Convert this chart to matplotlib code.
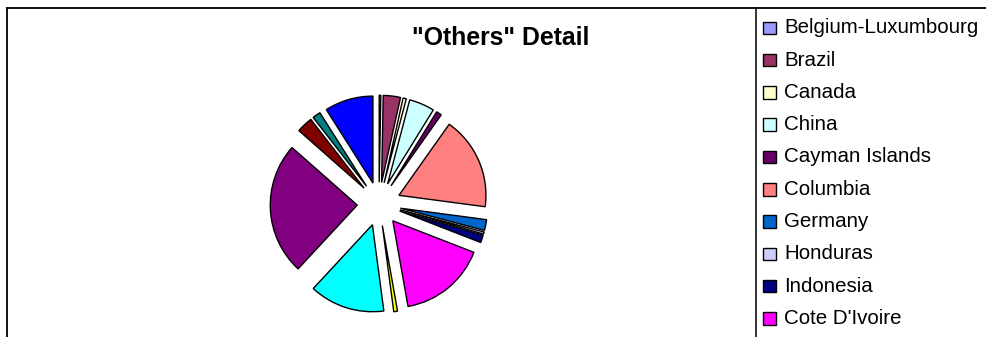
import matplotlib
matplotlib.use("Agg")
import matplotlib.pyplot as plt
from matplotlib.lines import Line2D
from matplotlib.patches import Rectangle

plt.rcParams['font.family'] = ['Liberation Sans', 'DejaVu Sans']

# share of the "others" group, clockwise from 12 o'clock
countries = ["Belgium-Luxumbourg", "Brazil", "Canada", "China", "Cayman Islands",
             "Columbia", "Germany", "Honduras", "Indonesia", "Cote D'Ivoire",
             "Malaysia", "Mexico", "Netherlands", "Panama", "Singapore",
             "United Kingdom"]
shares = [0.3, 3.2, 0.6, 4.7, 1.0, 17.3, 2.0, 0.4, 1.4, 16.3,
          0.7, 14.0, 24.6, 3.0, 1.5, 9.0]
colors = ["#9999FF", "#993366", "#FFFFCC", "#CCFFFF", "#660066", "#FF8080",
          "#0066CC", "#CCCCFF", "#000080", "#FF00FF", "#FFFF00", "#00FFFF",
          "#800080", "#800000", "#008080", "#0000FF"]

W, H = 987, 337
fig = plt.figure(figsize=(W / 100, H / 100), dpi=100)

# pie axes: centre (379, 204) px, radius 87 px
cx, cy, r = 379, 204, 87
half = 150
ax = fig.add_axes([(cx - half) / W, (H - cy - half) / H, 2 * half / W, 2 * half / H])
ax.pie(shares, colors=colors, startangle=90, counterclock=False,
       explode=[0.25] * len(shares),
       wedgeprops=dict(edgecolor="black", linewidth=1.0))
ax.set_xlim(-half / r, half / r)
ax.set_ylim(-half / r, half / r)
ax.set_aspect("equal")
ax.axis("off")

fig.text(501 / W, 1 - 38 / H, '"Others" Detail', ha="center", va="center",
         fontsize=17.8, fontweight="bold")

# chart frame (top and left) and legend divider
fig.add_artist(Line2D([7.5 / W, 7.5 / W], [0, 1 - 8 / H], color="black", lw=1.3))
fig.add_artist(Line2D([7.5 / W, 1], [1 - 8 / H, 1 - 8 / H], color="black", lw=1.3))
fig.add_artist(Line2D([756 / W, 756 / W], [0, 1 - 8 / H], color="black", lw=1.1))

# legend, only the rows that fit above the bottom edge
y0, step, sq = 27.8, 32.3, 12.5
for i, (name, c) in enumerate(zip(countries, colors)):
    yc = y0 + i * step
    if yc + 10 > H:
        break
    fig.add_artist(Rectangle((763.5 / W, 1 - (yc + sq / 2) / H), sq / W, sq / H,
                             facecolor=c, edgecolor="black", linewidth=1.0))
    fig.text(784 / W, 1 - yc / H, name, ha="left", va="center", fontsize=14.8)

fig.savefig("out.png", dpi=100)
